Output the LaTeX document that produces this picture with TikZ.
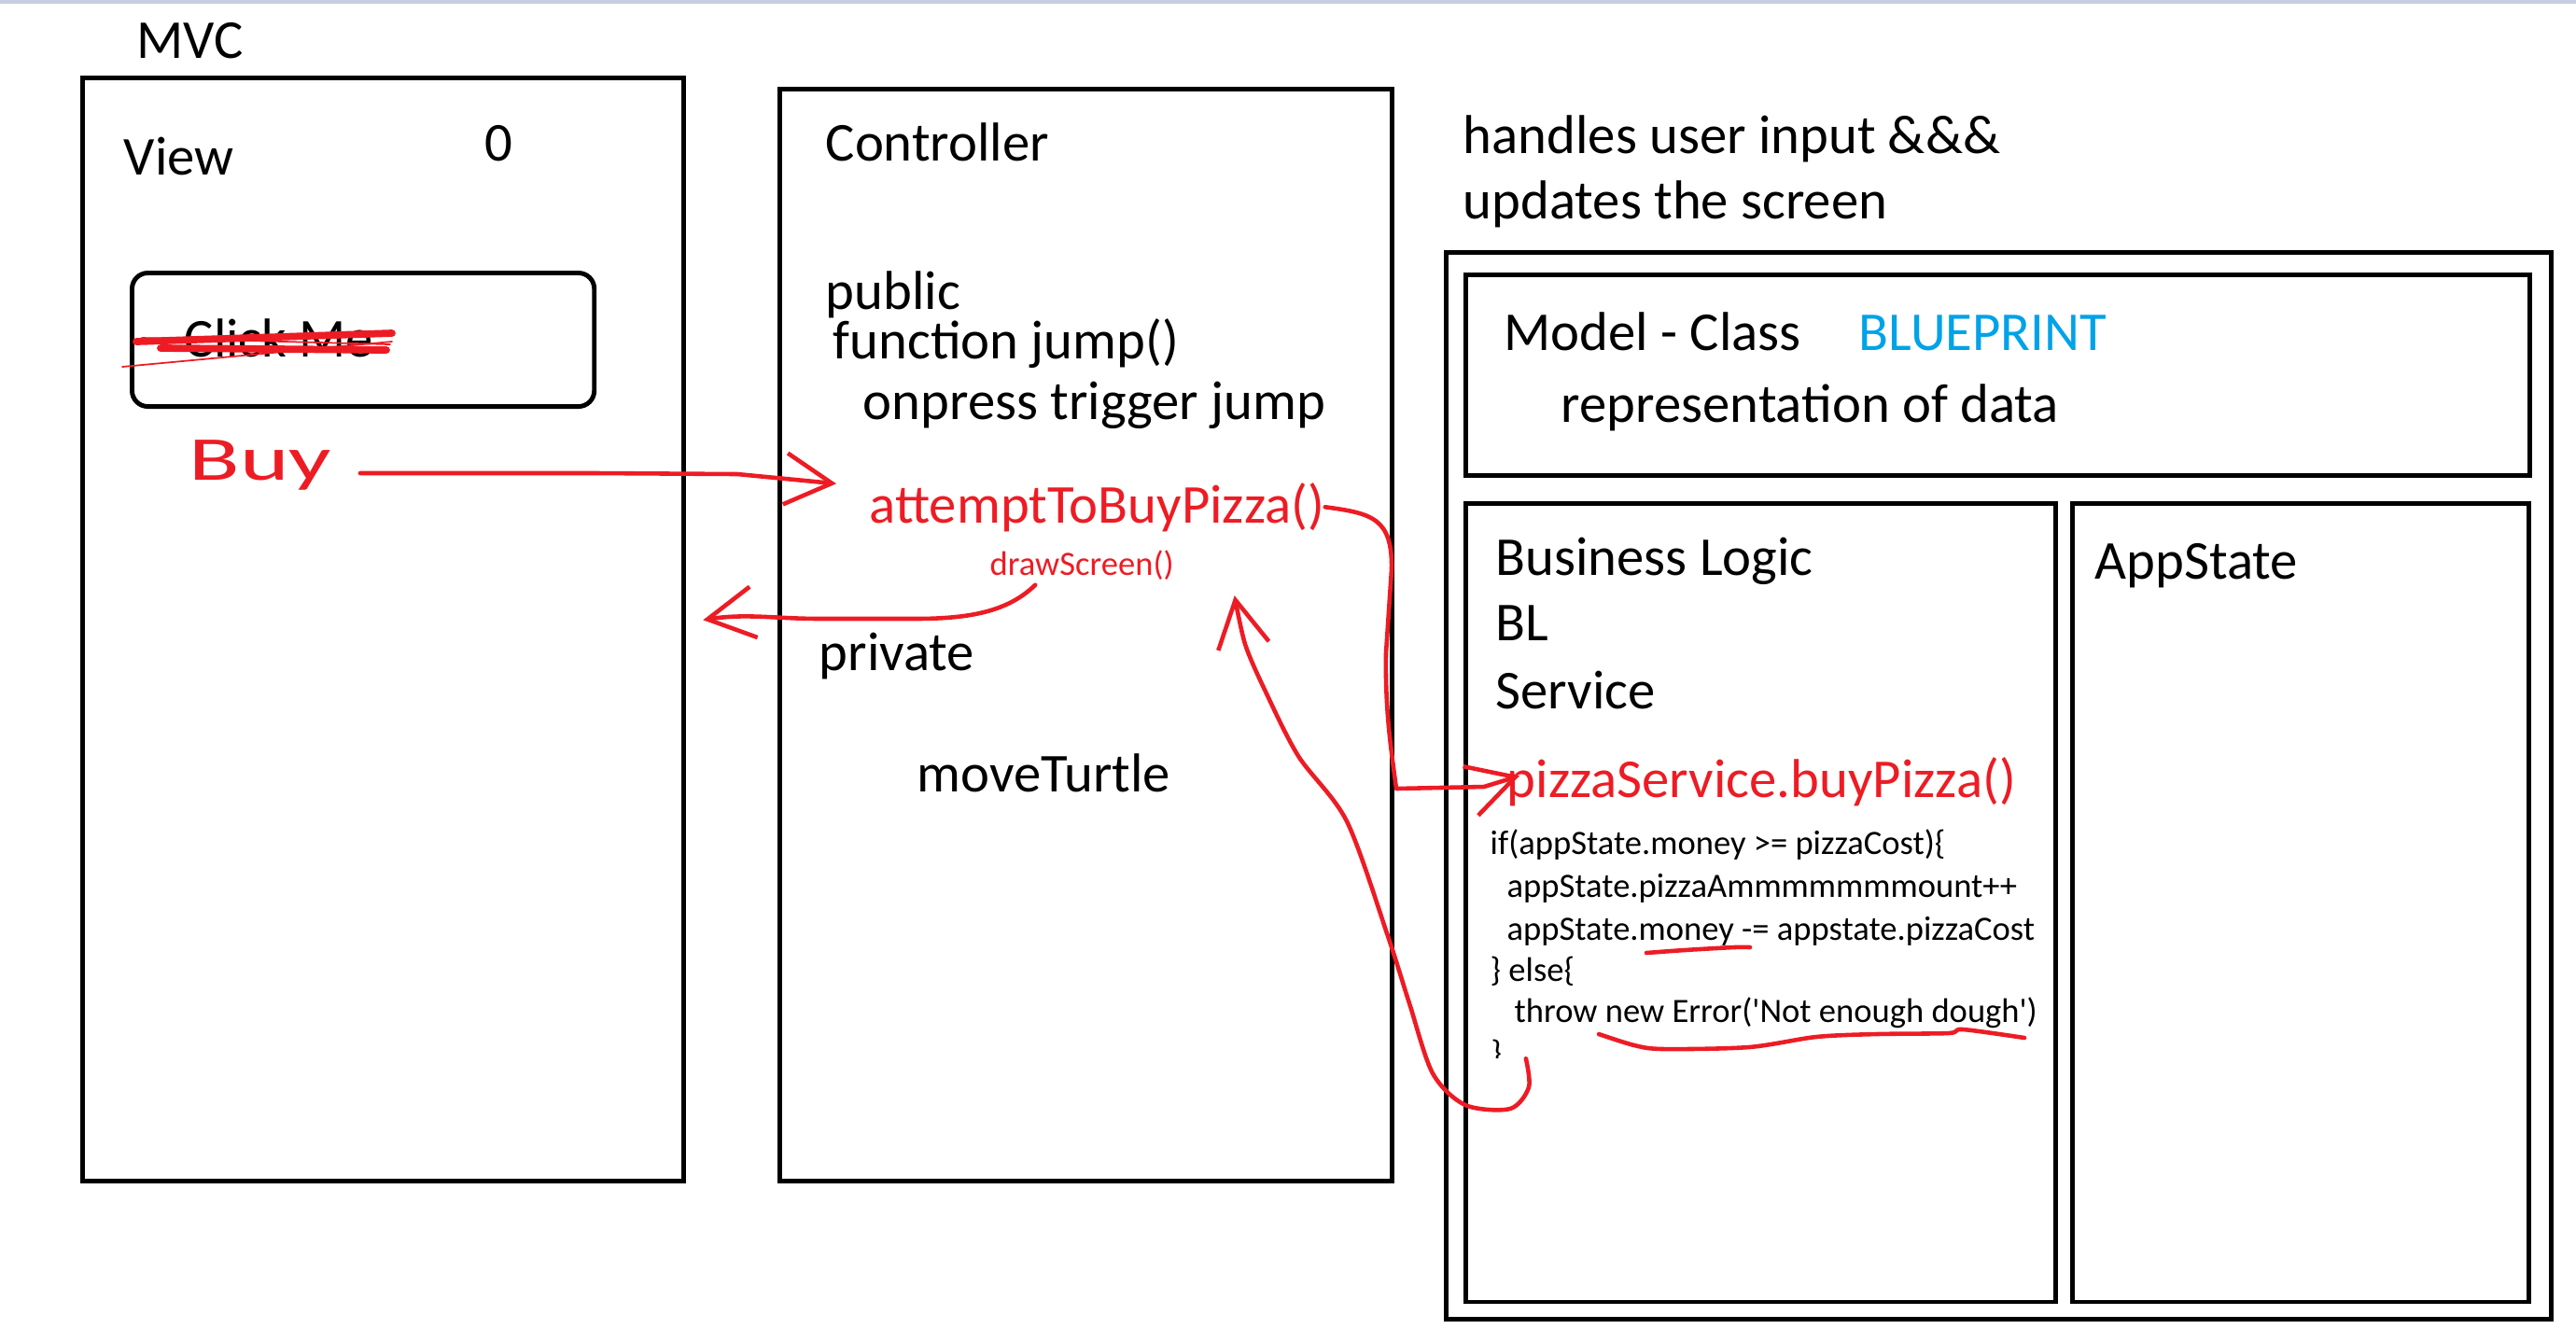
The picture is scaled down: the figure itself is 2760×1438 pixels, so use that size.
\documentclass[tikz,border=0pt]{standalone}
\usepackage{fontspec}
\setmainfont{Carlito}
\usetikzlibrary{arrows.meta,calc,positioning}
\definecolor{pen}{HTML}{ED1C24}
\definecolor{blueprint}{HTML}{00A2E8}
\definecolor{topbar}{HTML}{C5CFE1}
\newcommand{\mainsize}{\fontsize{16.7}{20}\selectfont}
\newcommand{\codesize}{\fontsize{10.4}{12.5}\selectfont}

\begin{document}
\begin{tikzpicture}[x=0.01cm, y=-0.01cm,
    box/.style={draw, line width=1.4pt, inner sep=0pt, anchor=north west},
    lbl/.style={anchor=base west, inner sep=0pt, font=\mainsize},
    code/.style={anchor=base west, inner sep=0pt, font=\codesize},
    redpen/.style={draw=pen, line width=1.3pt, line cap=round, line join=round},
    barb/.style={-{Straight Barb[length=5mm, width=5.5mm]}}]
    \useasboundingbox (0,0) rectangle (2760,1438);
    \fill[topbar] (0,0) rectangle (2760,4);

    % View side
    \node[lbl] (mvc) at (146,62) {MVC};
    \node[box, minimum width=6.44cm, minimum height=11.81cm] (view) at (86,81) {};
    \node[lbl] (viewlbl) at (132,187) {View};
    \node[lbl] (counter) at (519,172) {0};
    \node[box, rounded corners=0.17cm, minimum width=4.95cm, minimum height=1.43cm] (button) at (139,290) {};
    \node[lbl] (clickme) at (197,382) {Click Me};
    \draw[redpen, line width=2.2pt] (146,366) -- (420,357);
    \draw[redpen, line width=2.2pt] (172,373) -- (414,375);
    \draw[redpen, line width=0.5pt] (131,393) -- (420,366);
    \draw[redpen, line width=0.5pt] (152,362) -- (418,369);
    \node[lbl, text=pen, font=\fontsize{19}{22}\selectfont] (buy) at (202,514) {\scalebox{1.5}[1]{Buy}};

    % Controller
    \node[box, minimum width=6.56cm, minimum height=11.69cm] (ctrl) at (833,93) {};
    \node[lbl] (ctrllbl) at (884,172) {Controller};
    \node[lbl] (public) at (884,331) {public};
    \node[lbl] (jump) at (892,384) {function jump()};
    \node[lbl] (onpress) at (924,449) {onpress trigger jump};
    \node[lbl, text=pen] (attempt) at (931,560) {attemptToBuyPizza()};
    \node[code, text=pen] (drawscreen) at (1060,616) {drawScreen()};
    \node[lbl] (private) at (877,718) {private};
    \node[lbl] (turtle) at (982,848) {moveTurtle};

    % Model
    \node[lbl] (handles) at (1567,164) {handles user input \&\&\&};
    \node[lbl] (updates) at (1567,234) {updates the screen};
    \node[box, minimum width=11.83cm, minimum height=11.42cm] (model) at (1547,268) {};
    \node[box, minimum width=11.39cm, minimum height=2.15cm] (classbox) at (1568,292) {};
    \node[lbl] (classlbl) at (1611,375) {Model - Class};
    \node[lbl, text=blueprint] (blueprint) at (1991,375) {BLUEPRINT};
    \node[lbl] (repr) at (1672,452) {representation of data};
    \node[box, minimum width=6.32cm, minimum height=8.55cm] (logic) at (1568,537) {};
    \node[box, minimum width=4.89cm, minimum height=8.55cm] (state) at (2218,537) {};
    \node[lbl] (business) at (1602,616) {Business Logic};
    \node[lbl] (bl) at (1602,686) {BL};
    \node[lbl] (service) at (1602,759) {Service};
    \node[lbl] (statelbl) at (2244,620) {AppState};
    \node[lbl, text=pen] (pizza) at (1614,854) {pizzaService.buyPizza()};

    % code of buyPizza
    \node[code] (ifline) at (1596,915) {if(appState.money >= pizzaCost)\{};
    \node[code] (incline) at (1614,961) {appState.pizzaAmmmmmmmount++};
    \node[code] (payline) at (1614,1007) {appState.money -= appstate.pizzaCost};
    \node[code] (elseline) at (1596,1051) {\} else\{};
    \node[code] (throwline) at (1622,1095) {throw new Error(\textquotesingle Not enough dough\textquotesingle)};
    \begin{scope}
        \clip (1580,1100) rectangle (1660,1133);
        \node[code] (closeline) at (1597,1140) {\}};
    \end{scope}
    \draw[redpen] plot[smooth] coordinates {(1764,1021) (1805,1018) (1858,1015) (1875,1015)};
    \draw[redpen] plot[smooth] coordinates {(1713,1108) (1751,1120) (1782,1124) (1874,1122) (1946,1111) (2011,1108) (2088,1107) (2103,1103) (2169,1112)};

    % red arrows
    \draw[redpen, barb] ($(buy.base east)+(30,-7)$) -- (640,507) -- (790,508) -- ($(attempt.west)+(-35,-25)$);
    \coordinate (viewin) at ($(view.east)+(18,-10)$);
    \draw[redpen, barb] ($(drawscreen.south)+(-50,5)$) .. controls (1080,655) and (1040,663) .. (980,663) -- (880,663) .. controls (830,663) and (800,657) .. (viewin);
    \draw[redpen, barb] (attempt.east) .. controls (1470,550) and (1492,555) .. (1491,610) -- (1485,700) .. controls (1484,760) and (1490,800) .. (1496,845) -- (1590,843) -- ($(pizza.west)+(14,-6)$);
    \coordinate (loopstart) at ($(closeline.east)+(25,5)$);
    \coordinate (loopend) at ($(attempt.south east)+(-97,68)$);
    \draw[redpen, barb] plot[smooth, tension=0.5] coordinates {(loopstart) (1638,1165) (1618,1188) (1570,1184) (1535,1150) (1510,1075) (1487,1003) (1443,880) (1391,810) (1355,739) (1334,690) (loopend)};
\end{tikzpicture}
\end{document}
